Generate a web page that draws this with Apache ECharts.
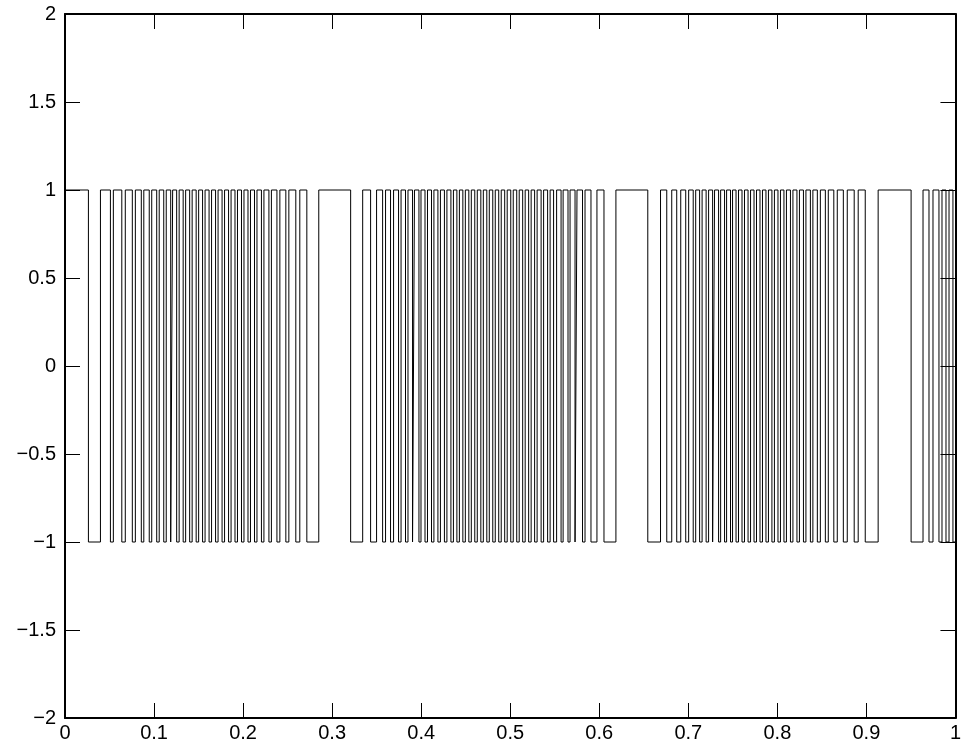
<!DOCTYPE html>
<html>
<head>
<meta charset="utf-8">
<script src="https://cdn.jsdelivr.net/npm/echarts@6/dist/echarts.min.js"></script>
<style>
html, body { margin: 0; padding: 0; background: #fff; }
#main { width: 964px; height: 747px; }
</style>
</head>
<body>
<div id="main"></div>
<script>
// square wave, starts at +1; each pair is [rise, fall] of a high pulse
var startLevel = 1;
var firstFall = 0.0263;
var highPulses = [
    [0.0398,0.0510],[0.0543,0.0638],[0.0677,0.0756],[0.0790,0.0857],[0.0885,0.0946],
    [0.0974,0.1030],[0.1058,0.1109],[0.1137,0.1187],[0.1209,0.1254],[0.1282,0.1327],
    [0.1355,0.1400],[0.1428,0.1473],[0.1501,0.1545],[0.1573,0.1618],[0.1646,0.1691],
    [0.1719,0.1764],[0.1792,0.1837],[0.1865,0.1909],[0.1937,0.1982],[0.2010,0.2055],
    [0.2083,0.2128],[0.2156,0.2206],[0.2234,0.2290],[0.2318,0.2380],[0.2413,0.2480],
    [0.2514,0.2592],[0.2637,0.2716],[0.2850,0.3208],
    [0.3343,0.3432],[0.3499,0.3567],[0.3600,0.3656],[0.3690,0.3746],[0.3774,0.3824],
    [0.3852,0.3903],[0.3925,0.3975],[0.3998,0.4043],[0.4071,0.4116],[0.4143,0.4188],
    [0.4216,0.4261],[0.4289,0.4334],[0.4362,0.4401],[0.4429,0.4468],[0.4496,0.4535],
    [0.4563,0.4602],[0.4630,0.4670],[0.4698,0.4737],[0.4765,0.4804],[0.4832,0.4871],
    [0.4899,0.4938],[0.4966,0.5006],[0.5034,0.5073],[0.5101,0.5140],[0.5168,0.5207],
    [0.5235,0.5274],[0.5302,0.5347],[0.5375,0.5420],[0.5448,0.5487],[0.5521,0.5571],
    [0.5594,0.5649],[0.5672,0.5728],[0.5750,0.5812],[0.5840,0.5907],[0.5974,0.6053],
    [0.6187,0.6545],
    [0.6688,0.6758],[0.6814,0.6870],[0.6915,0.6971],[0.7004,0.7055],[0.7083,0.7127],
    [0.7155,0.7200],[0.7228,0.7273],[0.7295,0.7340],[0.7363,0.7407],[0.7430,0.7474],
    [0.7497,0.7536],[0.7564,0.7603],[0.7631,0.7671],[0.7699,0.7738],[0.7766,0.7805],
    [0.7833,0.7872],[0.7900,0.7939],[0.7967,0.8007],[0.8035,0.8074],[0.8102,0.8147],
    [0.8175,0.8220],[0.8248,0.8293],[0.8321,0.8371],[0.8399,0.8449],[0.8483,0.8539],
    [0.8572,0.8634],[0.8673,0.8741],[0.8785,0.8863],[0.8908,0.8987],[0.9132,0.9502],
    [0.9636,0.9703],[0.9748,0.9815],[0.9849,0.9894],[0.9928,0.9972]
];
var endX = 1;

// build step line
var pts = [[0, startLevel], [firstFall, 1], [firstFall, -1]];
highPulses.forEach(function (p) {
    pts.push([p[0], -1], [p[0], 1], [p[1], 1], [p[1], -1]);
});
pts.push([endX, -1]);

function fmt(v) {
    var s = String(v);
    return v < 0 ? '\u2212' + s.slice(1) : s;
}

var axisFont = { color: '#000', fontSize: 20, fontFamily: 'Liberation Sans' };
var frame = { color: '#000', width: 2 };
var tick = { inside: true, length: 15, lineStyle: { color: '#000', width: 1 } };

var option = {
    animation: false,
    backgroundColor: '#fff',
    grid: { left: 65, right: 7, top: 14, bottom: 29 },
    xAxis: [{
        type: 'value', min: 0, max: 1, interval: 0.1,
        axisLine: { onZero: false, lineStyle: frame },
        axisTick: tick,
        axisLabel: Object.assign({ margin: 5, formatter: fmt }, axisFont),
        splitLine: { show: false }
    }, {
        type: 'value', min: 0, max: 1, interval: 0.1, position: 'top',
        axisLine: { onZero: false, lineStyle: frame },
        axisTick: tick,
        axisLabel: { show: false },
        splitLine: { show: false }
    }],
    yAxis: [{
        type: 'value', min: -2, max: 2, interval: 0.5,
        axisLine: { show: true, onZero: false, lineStyle: frame },
        axisTick: Object.assign({ show: true }, tick),
        axisLabel: Object.assign({ margin: 9, formatter: fmt }, axisFont),
        splitLine: { show: false }
    }, {
        type: 'value', min: -2, max: 2, interval: 0.5, position: 'right',
        axisLine: { show: true, onZero: false, lineStyle: frame },
        axisTick: Object.assign({ show: true }, tick),
        axisLabel: { show: false },
        splitLine: { show: false }
    }],
    series: [{
        type: 'line',
        data: pts,
        showSymbol: false,
        symbol: 'none',
        lineStyle: { color: '#000', width: 1 },
        silent: true
    }]
};

echarts.init(document.getElementById('main')).setOption(option);
</script>
</body>
</html>
